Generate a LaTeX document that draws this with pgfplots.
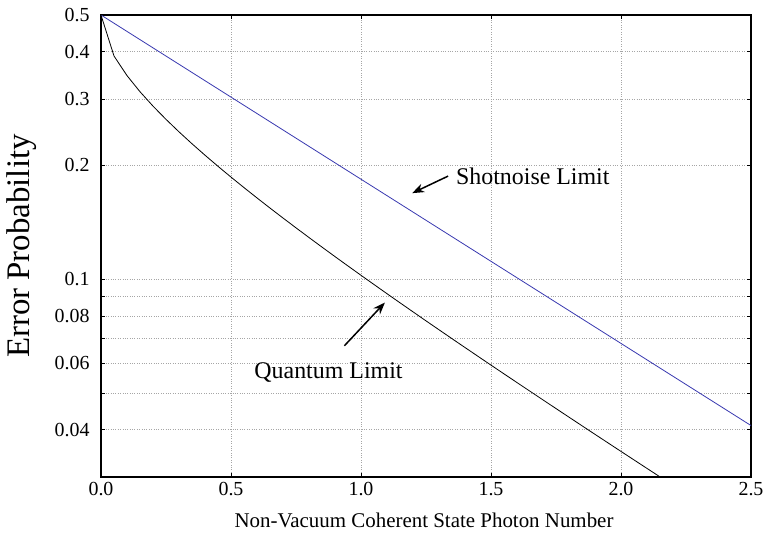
\documentclass[border=0pt]{standalone}
\usepackage{pgfplots}
\pgfplotsset{compat=1.18}
\usepackage{fontspec}
\setmainfont{Liberation Serif}
\usetikzlibrary{arrows.meta}
\definecolor{shotblue}{RGB}{55,55,175}
\pgfplotstableread{
N P
0.00 0.500000
0.05 0.389579
0.10 0.345757
0.15 0.313391
0.20 0.287122
0.25 0.264841
0.30 0.245450
0.35 0.228287
0.40 0.212911
0.45 0.199013
0.50 0.186364
0.55 0.174789
0.60 0.164148
0.65 0.154329
0.70 0.145241
0.75 0.136808
0.80 0.128964
0.85 0.121653
0.90 0.114828
0.95 0.108446
1.00 0.102470
1.05 0.096868
1.10 0.091610
1.15 0.086671
1.20 0.082027
1.25 0.077657
1.30 0.073542
1.35 0.069663
1.40 0.066006
1.45 0.062556
1.50 0.059299
1.55 0.056223
1.60 0.053317
1.65 0.050570
1.70 0.047973
1.75 0.045515
1.80 0.043190
1.85 0.040990
1.90 0.038906
1.95 0.036933
2.00 0.035063
2.05 0.033292
2.10 0.031613
2.15 0.030022
2.20 0.028514
}\quantum
\pgfplotstableread{
N P
0.00 0.500000
0.50 0.303265
1.00 0.183940
1.50 0.111565
2.00 0.067668
2.50 0.041042
}\shot
\begin{document}
\begin{tikzpicture}
\useasboundingbox (-101bp,-58bp) rectangle (665bp,477bp);
\begin{axis}[
  at={(0,0)}, anchor=south west,
  scale only axis,
  width=650bp, height=462bp,
  ymode=log,
  xmin=0, xmax=2.5, ymin=0.03, ymax=0.5,
  xtick={0,0.5,1,1.5,2,2.5},
  xticklabels={0.0,0.5,1.0,1.5,2.0,2.5},
  ytick={0.04,0.06,0.08,0.1,0.2,0.3,0.4,0.5},
  yticklabels={0.04,0.06,0.08,0.1,0.2,0.3,0.4,0.5},
  minor ytick={0.05,0.07,0.09},
  grid=both,
  major grid style={gray!70, dotted, line width=0.6bp},
  minor grid style={gray!70, dotted, line width=0.6bp},
  tick align=inside,
  major tick length=4bp, minor tick length=4bp,
  tick style={black, line width=0.6bp},
  axis line style={black, line width=1.3bp},
  /pgf/number format/assume math mode=true,
  yticklabel style={font=\fontsize{20}{24}\selectfont, xshift=-8bp},
  xticklabel style={font=\fontsize{20}{24}\selectfont, yshift=-2bp},
  xlabel={Non-Vacuum Coherent State Photon Number},
  ylabel={Error Probability},
  xlabel style={font=\fontsize{21}{25}\selectfont, at={(axis description cs:0.497,-0.095)}, anchor=center},
  ylabel style={font=\fontsize{33}{38}\selectfont, at={(axis description cs:-0.122,0.5)}, anchor=center, rotate=0},
  clip=true,
]
\addplot[shotblue, line width=0.8bp] table[x=N, y=P] {\shot};
\addplot[black, line width=0.8bp] table[x=N, y=P] {\quantum};
\draw[-{Stealth[length=12bp,width=9bp]}, line width=1.5bp] (axis cs:1.335,0.1875) -- (axis cs:1.197,0.169);
\draw[-{Stealth[length=12bp,width=9bp]}, line width=1.5bp] (axis cs:0.936,0.0667) -- (axis cs:1.092,0.0868);
\node[anchor=west, font=\fontsize{24}{28}\selectfont, inner sep=0pt] at (axis cs:1.365,0.1875) {Shotnoise Limit};
\node[anchor=center, font=\fontsize{24}{28}\selectfont, inner sep=0pt] at (axis cs:0.875,0.0566) {Quantum Limit};
\end{axis}
\end{tikzpicture}
\end{document}
